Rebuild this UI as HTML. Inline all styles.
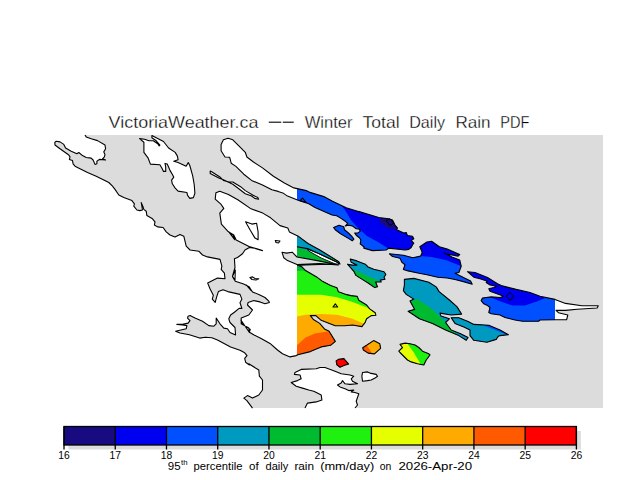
<!DOCTYPE html><html><head><meta charset="utf-8"><style>html,body{margin:0;padding:0;background:#fff;width:640px;height:480px;overflow:hidden}svg{display:block}</style></head><body>
<svg width="640" height="480" viewBox="0 0 640 480">
<rect x="0" y="0" width="640" height="480" fill="#fff"/>
<text x="108.6" y="127.6" font-family="Liberation Sans, sans-serif" font-size="16.5" textLength="149.88" lengthAdjust="spacingAndGlyphs" fill="#000" stroke="#fff" stroke-width="0.3">VictoriaWeather.ca</text>
<text x="304.7" y="127.6" font-family="Liberation Sans, sans-serif" font-size="16.5" textLength="47.88" lengthAdjust="spacingAndGlyphs" fill="#000" stroke="#fff" stroke-width="0.3">Winter</text>
<text x="362.5" y="127.6" font-family="Liberation Sans, sans-serif" font-size="16.5" textLength="37.05" lengthAdjust="spacingAndGlyphs" fill="#000" stroke="#fff" stroke-width="0.3">Total</text>
<text x="409.2" y="127.6" font-family="Liberation Sans, sans-serif" font-size="16.5" textLength="35.87" lengthAdjust="spacingAndGlyphs" fill="#000" stroke="#fff" stroke-width="0.3">Daily</text>
<text x="455.4" y="127.6" font-family="Liberation Sans, sans-serif" font-size="16.5" textLength="35.18" lengthAdjust="spacingAndGlyphs" fill="#000" stroke="#fff" stroke-width="0.3">Rain</text>
<text x="500.2" y="127.6" font-family="Liberation Sans, sans-serif" font-size="16.5" textLength="29.15" lengthAdjust="spacingAndGlyphs" fill="#000" stroke="#fff" stroke-width="0.3">PDF</text>
<line x1="268.75" y1="122.2" x2="281.25" y2="122.2" stroke="#000" stroke-width="1.1"/><line x1="282.8" y1="122.2" x2="293.75" y2="122.2" stroke="#000" stroke-width="1.1"/>
<rect x="54" y="135" width="549" height="273" fill="#dcdcdc"/>
<polygon points="85.0,135.0 86.2,136.9 91.2,138.8 97.5,140.6 105.0,145.0 105.6,148.8 103.8,151.9 105.0,154.4 104.4,156.9 102.5,158.8 105.6,160.0 99.4,159.4 96.9,161.2 96.9,163.8 95.0,164.4 93.1,160.0 91.2,158.1 86.2,157.5 82.5,155.6 78.8,152.5 76.9,153.8 71.2,151.2 65.6,148.1 63.8,144.4 60.0,141.9 56.2,141.2 54.8,142.5 55.0,145.0 60.0,148.8 68.8,155.0 70.0,156.9 69.4,159.4 72.5,160.6 73.1,163.8 75.0,166.2 80.0,168.8 87.5,172.5 96.2,176.2 103.8,180.0 108.8,182.5 112.5,186.2 115.0,189.4 118.8,195.0 123.8,197.5 131.9,200.6 134.4,203.8 133.8,206.2 136.9,210.0 140.0,210.6 142.5,210.0 141.2,202.5 143.1,206.9 143.8,209.4 146.2,211.2 146.9,215.6 152.5,218.8 155.0,221.9 154.4,225.0 157.5,226.9 163.1,227.5 166.2,231.9 170.0,235.0 175.0,236.9 180.0,234.4 183.8,236.2 185.0,241.2 186.2,246.2 190.0,250.0 198.8,251.2 202.5,255.0 207.5,256.9 220.0,259.4 221.9,266.2 221.2,269.4 224.4,273.1 225.0,278.8 217.5,278.1 207.7,283.1 210.0,288.7 213.3,295.3 212.3,299.1 215.2,302.3 216.6,297.2 218.4,291.6 223.1,289.7 227.8,291.6 240.0,294.4 241.9,299.1 240.0,302.8 241.9,308.4 239.1,308.4 234.4,312.2 230.6,315.0 228.8,318.8 230.0,322.5 235.0,327.5 235.6,335.0 230.0,332.5 227.5,328.8 223.8,328.1 220.0,323.8 216.2,318.1 216.2,323.8 213.8,326.2 208.8,325.6 202.5,321.2 195.0,318.1 190.0,315.6 188.1,316.2 187.5,318.1 190.0,320.6 188.1,323.1 182.5,324.4 176.9,324.4 182.5,325.0 186.9,325.6 186.2,328.8 175.6,331.2 180.0,333.0 189.4,334.8 199.7,338.1 205.3,337.2 211.9,337.7 217.5,340.0 230.6,347.0 240.0,350.3 244.7,352.8 247.0,355.6 244.7,358.4 245.6,362.2 249.4,365.0 248.8,363.8 258.8,370.0 259.4,376.2 262.5,380.0 262.5,390.0 258.8,395.0 252.5,398.1 247.5,395.6 243.8,398.1 246.9,400.6 252.5,408.2 252.5,420.0 0.0,420.0 0.0,130.0 85.0,130.0" fill="#fff"/>
<polygon points="215.9,192.8 219.8,191.2 228.4,194.4 237.8,199.8 250.3,208.4 262.8,213.1 270.6,217.8 280.0,225.6 287.8,228.0 289.4,231.9 298.8,236.6 308.0,243.5 319.4,249.8 328.8,255.5 338.8,261.8 340.0,264.0 336.0,264.0 297.8,265.2 301.7,266.7 305.6,270.6 316.6,276.9 322.8,281.6 330.6,285.5 336.9,287.8 338.4,291.7 344.7,294.1 350.9,295.6 357.2,296.4 358.8,300.3 366.6,305.0 369.7,308.9 375.2,312.8 375.9,315.2 371.2,315.6 366.6,318.8 365.0,322.7 361.9,326.6 352.5,325.0 344.7,325.8 335.3,325.8 327.5,322.7 321.2,320.3 315.8,315.6 310.3,315.6 313.4,319.5 319.7,323.4 324.4,328.9 329.1,331.2 335.3,341.4 330.6,345.3 321.2,346.9 310.3,351.6 297.8,354.7 296.2,355.6 290.0,356.9 282.5,353.8 277.5,350.0 270.0,343.4 261.6,338.7 254.1,335.0 249.4,332.2 250.3,329.4 247.5,327.5 241.9,323.7 240.9,320.0 249.4,332.5 248.8,328.1 241.2,323.8 241.2,318.1 248.8,315.0 252.5,310.0 247.5,305.0 248.1,302.5 253.8,300.6 260.0,301.9 265.0,303.8 269.4,302.5 268.8,301.2 265.0,297.5 258.8,294.4 252.5,291.9 251.2,290.0 246.2,285.0 251.2,290.6 249.4,286.9 243.7,284.1 235.3,281.2 232.5,276.6 235.3,270.0 235.0,280.0 232.5,276.2 235.0,267.5 234.4,258.8 237.5,257.5 242.5,253.8 245.0,250.0 249.4,247.5 256.2,248.5 262.5,250.6 250.0,246.9 236.2,240.0 233.8,235.0 228.8,231.9 234.7,239.7 233.1,235.0 228.4,231.9 221.4,224.1 219.8,213.1 223.8,208.4 220.6,203.8 215.2,199.1" fill="#fff"/>
<polygon points="221.1,144.5 223.4,139.8 228.1,138.2 232.8,139.8 239.1,146.1 245.3,152.3 246.9,157.0 253.1,161.7 262.5,167.9 273.4,176.2 284.4,183.0 293.8,187.9 306.2,190.6 310.0,192.4 323.8,196.6 332.5,201.2 346.2,207.8 357.5,211.2 360.0,211.9 378.8,217.5 388.8,218.8 392.5,220.0 395.0,225.0 397.5,228.1 396.2,229.4 403.8,233.1 406.2,232.5 407.5,235.6 412.5,236.2 413.8,238.8 411.2,240.6 413.8,243.1 412.5,245.0 411.2,247.5 408.8,249.4 405.0,250.0 388.8,248.1 386.2,250.0 372.5,250.6 363.8,248.1 364.1,247.0 360.2,243.9 360.9,240.0 359.4,237.7 356.2,235.3 354.7,233.0 357.8,233.0 360.2,231.4 359.4,229.1 356.2,228.7 352.3,225.9 348.4,225.2 345.3,225.9 347.7,223.6 345.3,221.2 340.6,218.1 336.7,215.8 332.0,215.0 315.0,207.5 308.8,203.8 297.5,200.0 287.5,196.1 282.8,192.9 278.1,191.4 271.9,189.8 262.5,185.1 251.6,180.4 243.8,174.2 235.9,166.4 231.2,163.2 229.7,157.3 225.0,157.0 221.1,150.8" fill="#fff"/>
<polygon points="333.6,227.5 339.1,225.2 343.8,226.7 344.5,229.8 348.4,233.0 351.6,236.1 353.9,239.2 352.3,240.8 348.4,238.4 340.6,233.8 335.2,229.8" fill="#fff"/>
<polygon points="210.2,171.0 211.7,171.8 220.3,177.3 223.4,180.4 228.9,182.0 232.8,182.0 240.6,186.7 245.3,190.6 253.1,195.3 257.8,197.6 258.6,199.2 254.7,198.4 251.6,196.0 245.3,193.7 239.1,189.0 232.8,184.3 223.4,179.7 218.8,178.1 210.2,173.4" fill="#fff"/>
<polygon points="139.5,138.6 144.6,139.3 149.0,140.8 153.3,140.8 157.7,143.7 159.2,145.9 159.9,145.1 156.2,140.8 151.9,137.8 151.9,135.6 154.8,137.1 163.5,141.5 168.6,148.0 175.2,152.4 177.4,156.1 178.1,159.7 173.8,161.2 178.1,162.6 186.1,166.3 188.3,162.6 189.8,165.5 192.7,175.8 194.2,184.5 194.9,193.2 193.4,197.6 189.8,198.4 187.6,195.4 186.9,192.5 178.1,191.1 175.2,188.1 172.3,183.8 171.6,180.1 173.8,177.2 172.3,174.3 170.1,170.6 168.6,167.0 167.2,164.1 165.0,163.4 165.7,167.0 165.7,171.4 163.5,171.4 162.1,168.5 159.9,164.8 150.4,164.1 148.2,158.2 143.9,152.4 143.9,146.6 143.9,142.2" fill="#fff"/>
<polygon points="389.4,253.8 403.4,255.3 412.8,257.7 420.6,256.1 422.2,252.2 419.8,246.7 426.9,242.0 431.6,241.2 439.4,246.7 447.2,249.1 459.7,254.5 458.1,256.1 445.6,253.8 444.1,253.0 451.9,256.9 459.7,260.0 461.2,266.2 458.9,272.5 455.0,273.3 464.4,278.0 470.6,281.1 472.2,284.2 464.4,281.9 455.0,279.5 447.2,278.0 437.8,277.2 426.9,274.8 419.1,273.3 408.1,270.9 403.4,269.4 405.0,264.7 401.9,262.3 400.0,258.3 392.5,256.5" fill="#fff"/>
<polygon points="467.5,271.7 475.0,272.5 487.5,277.5 497.5,283.8 501.2,285.6 516.2,289.4 530.0,292.5 540.0,296.2 555.0,299.4 565.5,303.4 581.9,305.7 598.3,305.7 597.1,308.0 577.2,309.2 565.5,310.4 556.0,310.4 558.4,312.7 567.8,315.0 566.6,319.8 556.0,319.8 540.0,320.0 538.8,321.2 522.5,321.2 515.0,320.0 505.0,317.5 500.0,315.0 491.2,313.8 488.8,312.5 490.0,307.5 487.5,305.6 483.8,303.8 481.2,300.6 482.5,298.1 486.2,297.5 491.2,296.9 500.0,297.5 503.8,296.2 490.0,291.2 488.8,288.8 493.8,287.5 496.9,286.2 490.0,285.0 486.2,282.5 487.5,281.2 480.0,278.8 473.8,277.2" fill="#fff"/>
<polygon points="404.4,279.4 413.8,278.4 428.8,282.2 436.2,286.9 439.1,291.6 449.4,300.0 456.9,306.6 461.6,314.1 451.2,315.0 440.0,313.1 440.9,315.9 449.4,318.8 445.6,322.5 451.2,330.0 460.6,333.8 468.1,337.5 466.2,340.3 458.8,335.6 445.6,330.0 432.5,323.4 419.4,318.8 408.1,311.2 414.7,309.4 410.0,300.9 413.8,299.1 406.2,294.4 403.4,290.6 404.4,285.0" fill="#fff"/>
<polygon points="451.2,317.8 458.8,317.8 468.1,321.6 473.8,324.4 488.8,325.3 500.0,330.0 508.4,334.7 500.0,335.6 498.1,336.6 496.2,339.4 486.9,342.2 473.8,340.3 470.0,335.6 470.0,330.0 464.4,327.2 455.0,323.4" fill="#fff"/>
<polygon points="400.0,344.4 405.0,343.1 410.0,343.8 415.0,345.0 418.8,347.5 422.5,351.2 428.8,353.8 430.0,355.0 426.2,360.0 423.8,365.0 417.5,363.8 411.2,361.9 407.5,360.0 400.0,352.5 398.8,351.2 402.5,347.5" fill="#fff"/>
<polygon points="362.7,347.7 366.6,345.3 373.6,340.6 379.8,343.8 380.6,348.4 374.4,353.9 368.1,353.1 363.4,350.0" fill="#fff"/>
<polygon points="336.1,360.9 338.4,359.4 343.9,358.6 348.6,364.1 343.9,365.6 340.0,367.2 336.9,364.8" fill="#fff"/>
<polygon points="350.3,259.0 356.9,260.9 365.3,264.2 368.1,267.0 373.8,269.3 384.0,271.7 385.9,274.5 384.0,277.3 385.0,279.2 380.3,280.1 381.2,282.0 375.6,282.0 377.5,286.7 374.7,287.6 368.1,283.0 363.4,280.1 355.9,275.4 354.1,271.7 347.5,264.2 352.2,265.1 356.9,265.1 351.2,262.3" fill="#fff"/>
<polygon points="301.2,369.4 316.2,368.8 320.0,367.5 325.0,367.5 335.0,371.2 341.2,373.8 350.0,375.0 353.8,376.2 351.2,378.8 352.5,381.2 357.5,383.8 350.0,384.4 345.0,383.8 342.5,380.6 341.2,383.1 337.5,385.0 340.0,386.9 345.0,388.8 348.8,390.6 353.8,390.0 351.2,391.9 355.0,392.5 358.8,393.8 357.5,397.5 356.2,401.2 357.5,405.0 355.0,408.0 305.0,408.0 307.5,403.1 316.2,401.9 321.9,400.0 321.2,395.0 318.8,393.8 313.8,391.2 308.8,390.0 302.5,388.1 296.2,386.2 291.2,382.5 297.5,380.6 301.2,378.8 300.0,375.0 294.4,374.4 295.0,372.5" fill="#fff"/>
<polygon points="362.5,372.5 367.5,371.9 370.0,373.1 376.2,374.4 377.5,376.2 375.0,378.1 371.2,380.0 367.5,380.6 362.5,381.2 361.9,376.2" fill="#fff"/>
<defs><clipPath id="land">
<polygon points="215.9,192.8 219.8,191.2 228.4,194.4 237.8,199.8 250.3,208.4 262.8,213.1 270.6,217.8 280.0,225.6 287.8,228.0 289.4,231.9 298.8,236.6 308.0,243.5 319.4,249.8 328.8,255.5 338.8,261.8 340.0,264.0 336.0,264.0 297.8,265.2 301.7,266.7 305.6,270.6 316.6,276.9 322.8,281.6 330.6,285.5 336.9,287.8 338.4,291.7 344.7,294.1 350.9,295.6 357.2,296.4 358.8,300.3 366.6,305.0 369.7,308.9 375.2,312.8 375.9,315.2 371.2,315.6 366.6,318.8 365.0,322.7 361.9,326.6 352.5,325.0 344.7,325.8 335.3,325.8 327.5,322.7 321.2,320.3 315.8,315.6 310.3,315.6 313.4,319.5 319.7,323.4 324.4,328.9 329.1,331.2 335.3,341.4 330.6,345.3 321.2,346.9 310.3,351.6 297.8,354.7 296.2,355.6 290.0,356.9 282.5,353.8 277.5,350.0 270.0,343.4 261.6,338.7 254.1,335.0 249.4,332.2 250.3,329.4 247.5,327.5 241.9,323.7 240.9,320.0 249.4,332.5 248.8,328.1 241.2,323.8 241.2,318.1 248.8,315.0 252.5,310.0 247.5,305.0 248.1,302.5 253.8,300.6 260.0,301.9 265.0,303.8 269.4,302.5 268.8,301.2 265.0,297.5 258.8,294.4 252.5,291.9 251.2,290.0 246.2,285.0 251.2,290.6 249.4,286.9 243.7,284.1 235.3,281.2 232.5,276.6 235.3,270.0 235.0,280.0 232.5,276.2 235.0,267.5 234.4,258.8 237.5,257.5 242.5,253.8 245.0,250.0 249.4,247.5 256.2,248.5 262.5,250.6 250.0,246.9 236.2,240.0 233.8,235.0 228.8,231.9 234.7,239.7 233.1,235.0 228.4,231.9 221.4,224.1 219.8,213.1 223.8,208.4 220.6,203.8 215.2,199.1"/>
<polygon points="221.1,144.5 223.4,139.8 228.1,138.2 232.8,139.8 239.1,146.1 245.3,152.3 246.9,157.0 253.1,161.7 262.5,167.9 273.4,176.2 284.4,183.0 293.8,187.9 306.2,190.6 310.0,192.4 323.8,196.6 332.5,201.2 346.2,207.8 357.5,211.2 360.0,211.9 378.8,217.5 388.8,218.8 392.5,220.0 395.0,225.0 397.5,228.1 396.2,229.4 403.8,233.1 406.2,232.5 407.5,235.6 412.5,236.2 413.8,238.8 411.2,240.6 413.8,243.1 412.5,245.0 411.2,247.5 408.8,249.4 405.0,250.0 388.8,248.1 386.2,250.0 372.5,250.6 363.8,248.1 364.1,247.0 360.2,243.9 360.9,240.0 359.4,237.7 356.2,235.3 354.7,233.0 357.8,233.0 360.2,231.4 359.4,229.1 356.2,228.7 352.3,225.9 348.4,225.2 345.3,225.9 347.7,223.6 345.3,221.2 340.6,218.1 336.7,215.8 332.0,215.0 315.0,207.5 308.8,203.8 297.5,200.0 287.5,196.1 282.8,192.9 278.1,191.4 271.9,189.8 262.5,185.1 251.6,180.4 243.8,174.2 235.9,166.4 231.2,163.2 229.7,157.3 225.0,157.0 221.1,150.8"/>
<polygon points="333.6,227.5 339.1,225.2 343.8,226.7 344.5,229.8 348.4,233.0 351.6,236.1 353.9,239.2 352.3,240.8 348.4,238.4 340.6,233.8 335.2,229.8"/>
<polygon points="389.4,253.8 403.4,255.3 412.8,257.7 420.6,256.1 422.2,252.2 419.8,246.7 426.9,242.0 431.6,241.2 439.4,246.7 447.2,249.1 459.7,254.5 458.1,256.1 445.6,253.8 444.1,253.0 451.9,256.9 459.7,260.0 461.2,266.2 458.9,272.5 455.0,273.3 464.4,278.0 470.6,281.1 472.2,284.2 464.4,281.9 455.0,279.5 447.2,278.0 437.8,277.2 426.9,274.8 419.1,273.3 408.1,270.9 403.4,269.4 405.0,264.7 401.9,262.3 400.0,258.3 392.5,256.5"/>
<polygon points="467.5,271.7 475.0,272.5 487.5,277.5 497.5,283.8 501.2,285.6 516.2,289.4 530.0,292.5 540.0,296.2 555.0,299.4 565.5,303.4 581.9,305.7 598.3,305.7 597.1,308.0 577.2,309.2 565.5,310.4 556.0,310.4 558.4,312.7 567.8,315.0 566.6,319.8 556.0,319.8 540.0,320.0 538.8,321.2 522.5,321.2 515.0,320.0 505.0,317.5 500.0,315.0 491.2,313.8 488.8,312.5 490.0,307.5 487.5,305.6 483.8,303.8 481.2,300.6 482.5,298.1 486.2,297.5 491.2,296.9 500.0,297.5 503.8,296.2 490.0,291.2 488.8,288.8 493.8,287.5 496.9,286.2 490.0,285.0 486.2,282.5 487.5,281.2 480.0,278.8 473.8,277.2"/>
<polygon points="404.4,279.4 413.8,278.4 428.8,282.2 436.2,286.9 439.1,291.6 449.4,300.0 456.9,306.6 461.6,314.1 451.2,315.0 440.0,313.1 440.9,315.9 449.4,318.8 445.6,322.5 451.2,330.0 460.6,333.8 468.1,337.5 466.2,340.3 458.8,335.6 445.6,330.0 432.5,323.4 419.4,318.8 408.1,311.2 414.7,309.4 410.0,300.9 413.8,299.1 406.2,294.4 403.4,290.6 404.4,285.0"/>
<polygon points="451.2,317.8 458.8,317.8 468.1,321.6 473.8,324.4 488.8,325.3 500.0,330.0 508.4,334.7 500.0,335.6 498.1,336.6 496.2,339.4 486.9,342.2 473.8,340.3 470.0,335.6 470.0,330.0 464.4,327.2 455.0,323.4"/>
<polygon points="400.0,344.4 405.0,343.1 410.0,343.8 415.0,345.0 418.8,347.5 422.5,351.2 428.8,353.8 430.0,355.0 426.2,360.0 423.8,365.0 417.5,363.8 411.2,361.9 407.5,360.0 400.0,352.5 398.8,351.2 402.5,347.5"/>
<polygon points="362.7,347.7 366.6,345.3 373.6,340.6 379.8,343.8 380.6,348.4 374.4,353.9 368.1,353.1 363.4,350.0"/>
<polygon points="336.1,360.9 338.4,359.4 343.9,358.6 348.6,364.1 343.9,365.6 340.0,367.2 336.9,364.8"/>
<polygon points="350.3,259.0 356.9,260.9 365.3,264.2 368.1,267.0 373.8,269.3 384.0,271.7 385.9,274.5 384.0,277.3 385.0,279.2 380.3,280.1 381.2,282.0 375.6,282.0 377.5,286.7 374.7,287.6 368.1,283.0 363.4,280.1 355.9,275.4 354.1,271.7 347.5,264.2 352.2,265.1 356.9,265.1 351.2,262.3"/>
</clipPath><clipPath id="drect"><rect x="297" y="100" width="258" height="320"/></clipPath></defs>
<g clip-path="url(#drect)"><g clip-path="url(#land)">
<rect x="290" y="100" width="300" height="320" fill="#0000f0"/>
<polygon points="297.0,120.0 338.0,120.0 341.0,205.0 345.0,210.0 351.0,220.0 357.5,227.5 367.0,236.0 378.8,242.5 387.5,248.1 420.0,256.0 431.6,256.9 445.6,260.0 459.7,265.5 475.0,285.0 491.2,297.5 500.0,301.2 512.5,305.6 525.0,305.6 537.5,301.2 545.0,298.1 560.0,292.0 560.0,412.0 297.0,412.0" fill="#0050ff"/>
<polygon points="297.0,212.0 320.0,225.0 350.0,245.0 380.0,262.0 405.0,276.0 440.0,280.0 470.0,300.0 485.0,326.0 500.0,332.0 510.0,336.0 560.0,340.0 560.0,412.0 297.0,412.0" fill="#0099c0"/>
<polygon points="297.0,247.0 340.0,261.0 351.2,268.5 371.0,277.5 382.0,282.0 390.0,285.0 400.0,290.0 410.9,300.9 417.5,299.1 432.5,309.4 443.8,320.6 457.8,335.6 465.0,345.0 470.0,360.0 470.0,412.0 297.0,412.0" fill="#00bb30"/>
<polygon points="297.0,271.0 303.0,270.5 320.0,278.0 380.0,300.0 400.0,320.0 440.0,345.0 450.0,412.0 297.0,412.0" fill="#20f010"/>
<polygon points="297.0,294.8 321.2,294.8 336.9,297.2 352.5,301.9 368.1,308.1 374.4,312.8 380.0,316.0 395.0,330.0 407.5,343.8 413.8,352.5 421.2,365.0 425.0,412.0 297.0,412.0" fill="#e6ff00"/>
<polygon points="297.0,316.4 305.6,314.8 321.2,314.1 336.9,314.8 352.5,318.8 363.4,323.4 375.0,330.0 385.0,345.0 395.0,375.0 400.0,412.0 297.0,412.0" fill="#ffaa00"/>
<polygon points="297.0,345.3 305.6,337.5 315.0,333.6 329.1,331.2 345.0,335.0 360.0,342.0 366.6,345.3 370.0,350.0 372.0,354.0 375.0,370.0 380.0,412.0 297.0,412.0" fill="#ff5a00"/>
<polygon points="297.0,357.0 335.0,355.0 352.0,357.0 356.0,366.0 356.0,412.0 297.0,412.0" fill="#ff0000"/>
<polygon points="380.0,218.1 391.2,218.8 397.5,227.5 395.0,229.4 387.5,228.1 380.0,222.5" fill="#180a80"/>
</g></g>
<polygon points="282.0,252.2 286.6,253.1 292.2,252.2 297.0,257.0 320.0,261.1 338.5,265.0 320.0,263.6 297.0,264.6 287.5,260.6 283.8,257.8" fill="#dcdcdc" stroke="#000" stroke-width="1.1" stroke-linejoin="round"/>
<polygon points="307.5,249.2 317.5,253.0 338.8,263.0 337.5,264.9 321.2,258.0 308.8,251.1" fill="#fff" stroke="#000" stroke-width="0.9" stroke-linejoin="round"/>
<polygon points="245.6,221.7 251.9,224.1 256.6,223.3 258.1,231.9 258.1,239.7 255.0,238.1 250.3,230.3 247.2,224.8" fill="none" stroke="#000" stroke-width="1.1" stroke-linejoin="round"/>
<polygon points="275.3,240.5 280.0,241.0 278.5,243.0 276.0,242.5" fill="none" stroke="#000" stroke-width="1.1" stroke-linejoin="round"/>
<polygon points="333.0,307.0 335.3,303.9 337.7,307.0" fill="none" stroke="#000" stroke-width="1.1" stroke-linejoin="round"/>
<polygon points="300.0,200.6 302.5,198.1 306.2,202.5" fill="none" stroke="#000" stroke-width="1.1" stroke-linejoin="round"/>
<polygon points="250.0,277.5 252.5,276.9 255.0,278.5 258.8,278.8 256.0,280.0 252.0,279.5" fill="none" stroke="#000" stroke-width="1.1" stroke-linejoin="round"/>
<polyline points="85.0,135.0 86.2,136.9 91.2,138.8 97.5,140.6 105.0,145.0 105.6,148.8 103.8,151.9 105.0,154.4 104.4,156.9 102.5,158.8 105.6,160.0 99.4,159.4 96.9,161.2 96.9,163.8 95.0,164.4 93.1,160.0 91.2,158.1 86.2,157.5 82.5,155.6 78.8,152.5 76.9,153.8 71.2,151.2 65.6,148.1 63.8,144.4 60.0,141.9 56.2,141.2 54.8,142.5 55.0,145.0 60.0,148.8 68.8,155.0 70.0,156.9 69.4,159.4 72.5,160.6 73.1,163.8 75.0,166.2 80.0,168.8 87.5,172.5 96.2,176.2 103.8,180.0 108.8,182.5 112.5,186.2 115.0,189.4 118.8,195.0 123.8,197.5 131.9,200.6 134.4,203.8 133.8,206.2 136.9,210.0 140.0,210.6 142.5,210.0 141.2,202.5 143.1,206.9 143.8,209.4 146.2,211.2 146.9,215.6 152.5,218.8 155.0,221.9 154.4,225.0 157.5,226.9 163.1,227.5 166.2,231.9 170.0,235.0 175.0,236.9 180.0,234.4 183.8,236.2 185.0,241.2 186.2,246.2 190.0,250.0 198.8,251.2 202.5,255.0 207.5,256.9 220.0,259.4 221.9,266.2 221.2,269.4 224.4,273.1 225.0,278.8 217.5,278.1 207.7,283.1 210.0,288.7 213.3,295.3 212.3,299.1 215.2,302.3 216.6,297.2 218.4,291.6 223.1,289.7 227.8,291.6 240.0,294.4 241.9,299.1 240.0,302.8 241.9,308.4 239.1,308.4 234.4,312.2 230.6,315.0 228.8,318.8 230.0,322.5 235.0,327.5 235.6,335.0 230.0,332.5 227.5,328.8 223.8,328.1 220.0,323.8 216.2,318.1 216.2,323.8 213.8,326.2 208.8,325.6 202.5,321.2 195.0,318.1 190.0,315.6 188.1,316.2 187.5,318.1 190.0,320.6 188.1,323.1 182.5,324.4 176.9,324.4 182.5,325.0 186.9,325.6 186.2,328.8 175.6,331.2 180.0,333.0 189.4,334.8 199.7,338.1 205.3,337.2 211.9,337.7 217.5,340.0 230.6,347.0 240.0,350.3 244.7,352.8 247.0,355.6 244.7,358.4 245.6,362.2 249.4,365.0 248.8,363.8 258.8,370.0 259.4,376.2 262.5,380.0 262.5,390.0 258.8,395.0 252.5,398.1 247.5,395.6 243.8,398.1 246.9,400.6 252.5,408.2" fill="none" stroke="#000" stroke-width="1.1" stroke-linejoin="round"/>
<polygon points="215.9,192.8 219.8,191.2 228.4,194.4 237.8,199.8 250.3,208.4 262.8,213.1 270.6,217.8 280.0,225.6 287.8,228.0 289.4,231.9 298.8,236.6 308.0,243.5 319.4,249.8 328.8,255.5 338.8,261.8 340.0,264.0 336.0,264.0 297.8,265.2 301.7,266.7 305.6,270.6 316.6,276.9 322.8,281.6 330.6,285.5 336.9,287.8 338.4,291.7 344.7,294.1 350.9,295.6 357.2,296.4 358.8,300.3 366.6,305.0 369.7,308.9 375.2,312.8 375.9,315.2 371.2,315.6 366.6,318.8 365.0,322.7 361.9,326.6 352.5,325.0 344.7,325.8 335.3,325.8 327.5,322.7 321.2,320.3 315.8,315.6 310.3,315.6 313.4,319.5 319.7,323.4 324.4,328.9 329.1,331.2 335.3,341.4 330.6,345.3 321.2,346.9 310.3,351.6 297.8,354.7 296.2,355.6 290.0,356.9 282.5,353.8 277.5,350.0 270.0,343.4 261.6,338.7 254.1,335.0 249.4,332.2 250.3,329.4 247.5,327.5 241.9,323.7 240.9,320.0 249.4,332.5 248.8,328.1 241.2,323.8 241.2,318.1 248.8,315.0 252.5,310.0 247.5,305.0 248.1,302.5 253.8,300.6 260.0,301.9 265.0,303.8 269.4,302.5 268.8,301.2 265.0,297.5 258.8,294.4 252.5,291.9 251.2,290.0 246.2,285.0 251.2,290.6 249.4,286.9 243.7,284.1 235.3,281.2 232.5,276.6 235.3,270.0 235.0,280.0 232.5,276.2 235.0,267.5 234.4,258.8 237.5,257.5 242.5,253.8 245.0,250.0 249.4,247.5 256.2,248.5 262.5,250.6 250.0,246.9 236.2,240.0 233.8,235.0 228.8,231.9 234.7,239.7 233.1,235.0 228.4,231.9 221.4,224.1 219.8,213.1 223.8,208.4 220.6,203.8 215.2,199.1" fill="none" stroke="#000" stroke-width="1.1" stroke-linejoin="round"/>
<polygon points="221.1,144.5 223.4,139.8 228.1,138.2 232.8,139.8 239.1,146.1 245.3,152.3 246.9,157.0 253.1,161.7 262.5,167.9 273.4,176.2 284.4,183.0 293.8,187.9 306.2,190.6 310.0,192.4 323.8,196.6 332.5,201.2 346.2,207.8 357.5,211.2 360.0,211.9 378.8,217.5 388.8,218.8 392.5,220.0 395.0,225.0 397.5,228.1 396.2,229.4 403.8,233.1 406.2,232.5 407.5,235.6 412.5,236.2 413.8,238.8 411.2,240.6 413.8,243.1 412.5,245.0 411.2,247.5 408.8,249.4 405.0,250.0 388.8,248.1 386.2,250.0 372.5,250.6 363.8,248.1 364.1,247.0 360.2,243.9 360.9,240.0 359.4,237.7 356.2,235.3 354.7,233.0 357.8,233.0 360.2,231.4 359.4,229.1 356.2,228.7 352.3,225.9 348.4,225.2 345.3,225.9 347.7,223.6 345.3,221.2 340.6,218.1 336.7,215.8 332.0,215.0 315.0,207.5 308.8,203.8 297.5,200.0 287.5,196.1 282.8,192.9 278.1,191.4 271.9,189.8 262.5,185.1 251.6,180.4 243.8,174.2 235.9,166.4 231.2,163.2 229.7,157.3 225.0,157.0 221.1,150.8" fill="none" stroke="#000" stroke-width="1.1" stroke-linejoin="round"/>
<polygon points="333.6,227.5 339.1,225.2 343.8,226.7 344.5,229.8 348.4,233.0 351.6,236.1 353.9,239.2 352.3,240.8 348.4,238.4 340.6,233.8 335.2,229.8" fill="none" stroke="#000" stroke-width="1.1" stroke-linejoin="round"/>
<polygon points="210.2,171.0 211.7,171.8 220.3,177.3 223.4,180.4 228.9,182.0 232.8,182.0 240.6,186.7 245.3,190.6 253.1,195.3 257.8,197.6 258.6,199.2 254.7,198.4 251.6,196.0 245.3,193.7 239.1,189.0 232.8,184.3 223.4,179.7 218.8,178.1 210.2,173.4" fill="none" stroke="#000" stroke-width="1.1" stroke-linejoin="round"/>
<polygon points="139.5,138.6 144.6,139.3 149.0,140.8 153.3,140.8 157.7,143.7 159.2,145.9 159.9,145.1 156.2,140.8 151.9,137.8 151.9,135.6 154.8,137.1 163.5,141.5 168.6,148.0 175.2,152.4 177.4,156.1 178.1,159.7 173.8,161.2 178.1,162.6 186.1,166.3 188.3,162.6 189.8,165.5 192.7,175.8 194.2,184.5 194.9,193.2 193.4,197.6 189.8,198.4 187.6,195.4 186.9,192.5 178.1,191.1 175.2,188.1 172.3,183.8 171.6,180.1 173.8,177.2 172.3,174.3 170.1,170.6 168.6,167.0 167.2,164.1 165.0,163.4 165.7,167.0 165.7,171.4 163.5,171.4 162.1,168.5 159.9,164.8 150.4,164.1 148.2,158.2 143.9,152.4 143.9,146.6 143.9,142.2" fill="none" stroke="#000" stroke-width="1.1" stroke-linejoin="round"/>
<polygon points="389.4,253.8 403.4,255.3 412.8,257.7 420.6,256.1 422.2,252.2 419.8,246.7 426.9,242.0 431.6,241.2 439.4,246.7 447.2,249.1 459.7,254.5 458.1,256.1 445.6,253.8 444.1,253.0 451.9,256.9 459.7,260.0 461.2,266.2 458.9,272.5 455.0,273.3 464.4,278.0 470.6,281.1 472.2,284.2 464.4,281.9 455.0,279.5 447.2,278.0 437.8,277.2 426.9,274.8 419.1,273.3 408.1,270.9 403.4,269.4 405.0,264.7 401.9,262.3 400.0,258.3 392.5,256.5" fill="none" stroke="#000" stroke-width="1.1" stroke-linejoin="round"/>
<polygon points="467.5,271.7 475.0,272.5 487.5,277.5 497.5,283.8 501.2,285.6 516.2,289.4 530.0,292.5 540.0,296.2 555.0,299.4 565.5,303.4 581.9,305.7 598.3,305.7 597.1,308.0 577.2,309.2 565.5,310.4 556.0,310.4 558.4,312.7 567.8,315.0 566.6,319.8 556.0,319.8 540.0,320.0 538.8,321.2 522.5,321.2 515.0,320.0 505.0,317.5 500.0,315.0 491.2,313.8 488.8,312.5 490.0,307.5 487.5,305.6 483.8,303.8 481.2,300.6 482.5,298.1 486.2,297.5 491.2,296.9 500.0,297.5 503.8,296.2 490.0,291.2 488.8,288.8 493.8,287.5 496.9,286.2 490.0,285.0 486.2,282.5 487.5,281.2 480.0,278.8 473.8,277.2" fill="none" stroke="#000" stroke-width="1.1" stroke-linejoin="round"/>
<polygon points="404.4,279.4 413.8,278.4 428.8,282.2 436.2,286.9 439.1,291.6 449.4,300.0 456.9,306.6 461.6,314.1 451.2,315.0 440.0,313.1 440.9,315.9 449.4,318.8 445.6,322.5 451.2,330.0 460.6,333.8 468.1,337.5 466.2,340.3 458.8,335.6 445.6,330.0 432.5,323.4 419.4,318.8 408.1,311.2 414.7,309.4 410.0,300.9 413.8,299.1 406.2,294.4 403.4,290.6 404.4,285.0" fill="none" stroke="#000" stroke-width="1.1" stroke-linejoin="round"/>
<polygon points="451.2,317.8 458.8,317.8 468.1,321.6 473.8,324.4 488.8,325.3 500.0,330.0 508.4,334.7 500.0,335.6 498.1,336.6 496.2,339.4 486.9,342.2 473.8,340.3 470.0,335.6 470.0,330.0 464.4,327.2 455.0,323.4" fill="none" stroke="#000" stroke-width="1.1" stroke-linejoin="round"/>
<polygon points="400.0,344.4 405.0,343.1 410.0,343.8 415.0,345.0 418.8,347.5 422.5,351.2 428.8,353.8 430.0,355.0 426.2,360.0 423.8,365.0 417.5,363.8 411.2,361.9 407.5,360.0 400.0,352.5 398.8,351.2 402.5,347.5" fill="none" stroke="#000" stroke-width="1.1" stroke-linejoin="round"/>
<polygon points="362.7,347.7 366.6,345.3 373.6,340.6 379.8,343.8 380.6,348.4 374.4,353.9 368.1,353.1 363.4,350.0" fill="none" stroke="#000" stroke-width="1.1" stroke-linejoin="round"/>
<polygon points="336.1,360.9 338.4,359.4 343.9,358.6 348.6,364.1 343.9,365.6 340.0,367.2 336.9,364.8" fill="none" stroke="#000" stroke-width="1.1" stroke-linejoin="round"/>
<polygon points="350.3,259.0 356.9,260.9 365.3,264.2 368.1,267.0 373.8,269.3 384.0,271.7 385.9,274.5 384.0,277.3 385.0,279.2 380.3,280.1 381.2,282.0 375.6,282.0 377.5,286.7 374.7,287.6 368.1,283.0 363.4,280.1 355.9,275.4 354.1,271.7 347.5,264.2 352.2,265.1 356.9,265.1 351.2,262.3" fill="none" stroke="#000" stroke-width="1.1" stroke-linejoin="round"/>
<polyline points="305.0,408.0 307.5,403.1 316.2,401.9 321.9,400.0 321.2,395.0 318.8,393.8 313.8,391.2 308.8,390.0 302.5,388.1 296.2,386.2 291.2,382.5 297.5,380.6 301.2,378.8 300.0,375.0 294.4,374.4 295.0,372.5 301.2,369.4 316.2,368.8 320.0,367.5 325.0,367.5 335.0,371.2 341.2,373.8 350.0,375.0 353.8,376.2 351.2,378.8 352.5,381.2 357.5,383.8 350.0,384.4 345.0,383.8 342.5,380.6 341.2,383.1 337.5,385.0 340.0,386.9 345.0,388.8 348.8,390.6 353.8,390.0 351.2,391.9 355.0,392.5 358.8,393.8 357.5,397.5 356.2,401.2 357.5,405.0 355.0,408.0" fill="none" stroke="#000" stroke-width="1.1" stroke-linejoin="round"/>
<polygon points="362.5,372.5 367.5,371.9 370.0,373.1 376.2,374.4 377.5,376.2 375.0,378.1 371.2,380.0 367.5,380.6 362.5,381.2 361.9,376.2" fill="none" stroke="#000" stroke-width="1.1" stroke-linejoin="round"/>
<polyline points="296.9,246.8 307.5,248.6 317.5,253.0 338.8,263.0" fill="none" stroke="#000" stroke-width="1.1"/>
<polygon points="506.2,296.2 510.0,292.5 513.8,296.2 510.0,300.6" fill="none" stroke="#000" stroke-width="1"/>
<polygon points="386.2,220.6 390.0,218.8 393.8,223.1 390.0,225.6" fill="none" stroke="#000" stroke-width="1"/>
<rect x="68.5" y="431.0" width="512.4" height="18.5" fill="#dcdcdc"/>
<rect x="64.00" y="426.5" width="51.24" height="18.5" fill="#180a80"/>
<rect x="115.24" y="426.5" width="51.24" height="18.5" fill="#0000f0"/>
<rect x="166.48" y="426.5" width="51.24" height="18.5" fill="#0050ff"/>
<rect x="217.72" y="426.5" width="51.24" height="18.5" fill="#0099c0"/>
<rect x="268.96" y="426.5" width="51.24" height="18.5" fill="#00bb30"/>
<rect x="320.20" y="426.5" width="51.24" height="18.5" fill="#20f010"/>
<rect x="371.44" y="426.5" width="51.24" height="18.5" fill="#e6ff00"/>
<rect x="422.68" y="426.5" width="51.24" height="18.5" fill="#ffaa00"/>
<rect x="473.92" y="426.5" width="51.24" height="18.5" fill="#ff5a00"/>
<rect x="525.16" y="426.5" width="51.24" height="18.5" fill="#ff0000"/>
<rect x="64.0" y="426.5" width="512.4" height="18.5" fill="none" stroke="#000" stroke-width="1.3"/>
<line x1="64.00" y1="426.5" x2="64.00" y2="449.5" stroke="#000" stroke-width="1.3"/>
<line x1="115.24" y1="426.5" x2="115.24" y2="449.5" stroke="#000" stroke-width="1.3"/>
<line x1="166.48" y1="426.5" x2="166.48" y2="449.5" stroke="#000" stroke-width="1.3"/>
<line x1="217.72" y1="426.5" x2="217.72" y2="449.5" stroke="#000" stroke-width="1.3"/>
<line x1="268.96" y1="426.5" x2="268.96" y2="449.5" stroke="#000" stroke-width="1.3"/>
<line x1="320.20" y1="426.5" x2="320.20" y2="449.5" stroke="#000" stroke-width="1.3"/>
<line x1="371.44" y1="426.5" x2="371.44" y2="449.5" stroke="#000" stroke-width="1.3"/>
<line x1="422.68" y1="426.5" x2="422.68" y2="449.5" stroke="#000" stroke-width="1.3"/>
<line x1="473.92" y1="426.5" x2="473.92" y2="449.5" stroke="#000" stroke-width="1.3"/>
<line x1="525.16" y1="426.5" x2="525.16" y2="449.5" stroke="#000" stroke-width="1.3"/>
<line x1="576.40" y1="426.5" x2="576.40" y2="449.5" stroke="#000" stroke-width="1.3"/>
<text x="64.00" y="458.8" text-anchor="middle" font-family="Liberation Sans, sans-serif" font-size="10.3" fill="#000">16</text>
<text x="115.24" y="458.8" text-anchor="middle" font-family="Liberation Sans, sans-serif" font-size="10.3" fill="#000">17</text>
<text x="166.48" y="458.8" text-anchor="middle" font-family="Liberation Sans, sans-serif" font-size="10.3" fill="#000">18</text>
<text x="217.72" y="458.8" text-anchor="middle" font-family="Liberation Sans, sans-serif" font-size="10.3" fill="#000">19</text>
<text x="268.96" y="458.8" text-anchor="middle" font-family="Liberation Sans, sans-serif" font-size="10.3" fill="#000">20</text>
<text x="320.20" y="458.8" text-anchor="middle" font-family="Liberation Sans, sans-serif" font-size="10.3" fill="#000">21</text>
<text x="371.44" y="458.8" text-anchor="middle" font-family="Liberation Sans, sans-serif" font-size="10.3" fill="#000">22</text>
<text x="422.68" y="458.8" text-anchor="middle" font-family="Liberation Sans, sans-serif" font-size="10.3" fill="#000">23</text>
<text x="473.92" y="458.8" text-anchor="middle" font-family="Liberation Sans, sans-serif" font-size="10.3" fill="#000">24</text>
<text x="525.16" y="458.8" text-anchor="middle" font-family="Liberation Sans, sans-serif" font-size="10.3" fill="#000">25</text>
<text x="576.40" y="458.8" text-anchor="middle" font-family="Liberation Sans, sans-serif" font-size="10.3" fill="#000">26</text>
<text x="167.8" y="469.7" font-family="Liberation Sans, sans-serif" font-size="10" textLength="12.78" lengthAdjust="spacingAndGlyphs" fill="#000">95</text>
<text x="193.6" y="469.7" font-family="Liberation Sans, sans-serif" font-size="10" textLength="48.82" lengthAdjust="spacingAndGlyphs" fill="#000">percentile</text>
<text x="249.0" y="469.7" font-family="Liberation Sans, sans-serif" font-size="10" textLength="9.65" lengthAdjust="spacingAndGlyphs" fill="#000">of</text>
<text x="265.5" y="469.7" font-family="Liberation Sans, sans-serif" font-size="10" textLength="22.75" lengthAdjust="spacingAndGlyphs" fill="#000">daily</text>
<text x="294.4" y="469.7" font-family="Liberation Sans, sans-serif" font-size="10" textLength="19.65" lengthAdjust="spacingAndGlyphs" fill="#000">rain</text>
<text x="320.2" y="469.7" font-family="Liberation Sans, sans-serif" font-size="10" textLength="54.1" lengthAdjust="spacingAndGlyphs" fill="#000">(mm/day)</text>
<text x="379.7" y="469.7" font-family="Liberation Sans, sans-serif" font-size="10" textLength="11.58" lengthAdjust="spacingAndGlyphs" fill="#000">on</text>
<text x="398.4" y="469.7" font-family="Liberation Sans, sans-serif" font-size="10" textLength="73.67" lengthAdjust="spacingAndGlyphs" fill="#000">2026-Apr-20</text>
<text x="181" y="465" font-family="Liberation Sans, sans-serif" font-size="7" textLength="6.5" lengthAdjust="spacingAndGlyphs" fill="#000">th</text>
</svg></body></html>
